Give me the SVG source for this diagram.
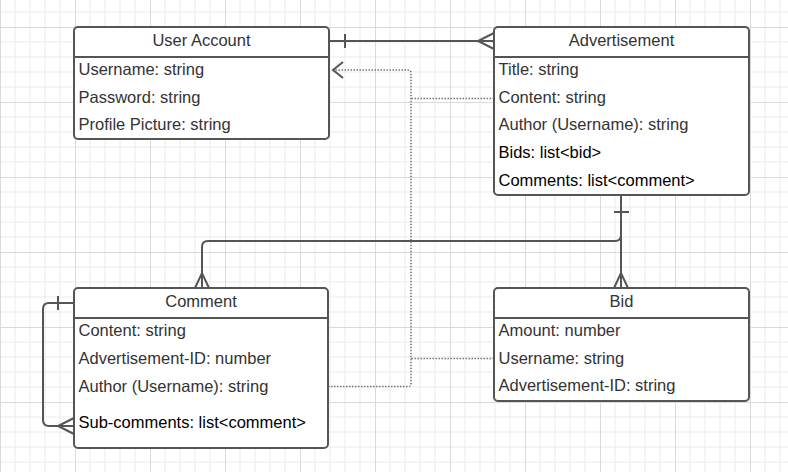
<svg xmlns="http://www.w3.org/2000/svg" width="788" height="472" viewBox="0 0 788 472">
<defs>
<pattern id="grid" x="0" y="27" width="75" height="75" patternUnits="userSpaceOnUse">
<path d="M15 0V75M30 0V75M45 0V75M60 0V75M0 15H75M0 30H75M0 45H75M0 60H75" stroke="#ebebeb" stroke-width="1" fill="none"/>
<path d="M0.5 0V75M0 0.5H75" stroke="#dadada" stroke-width="1" fill="none"/>
</pattern>
</defs>
<style>
.box{fill:#fff;stroke:#555;stroke-width:2}
.sep{stroke:#555;stroke-width:2}
.hd{font-family:"Liberation Sans",Arial,sans-serif;font-size:16.5px;fill:#333;text-anchor:middle}
.fd{font-family:"Liberation Sans",Arial,sans-serif;font-size:16.5px;fill:#333}
.fb{fill:#000}
.ln{fill:none;stroke:#555;stroke-width:2}
.dt{fill:none;stroke:#777;stroke-width:1.5;stroke-dasharray:1.5 1.5}
</style>
<rect width="788" height="472" fill="#fff"/>
<rect width="788" height="472" fill="url(#grid)"/>

<g id="connectors">
<!-- User Account - Advertisement -->
<path class="ln" d="M329 41H494"/>
<path class="ln" d="M345 34V48"/>
<path class="ln" d="M494 33L478 41L494 49"/>
<!-- Advertisement - Bid -->
<path class="ln" d="M621 195V288"/>
<path class="ln" d="M614 212H629"/>
<path class="ln" d="M614 288L621 273L628 288"/>
<!-- Advertisement - Comment -->
<path class="ln" d="M621 235Q621 241 615 241H208Q202 241 202 247V288"/>
<path class="ln" d="M195 288L202 273L209 288"/>
<!-- Comment self loop -->
<path class="ln" d="M74 303H49Q43 303 43 309V420Q43 426 49 426H74"/>
<path class="ln" d="M58 296V310"/>
<path class="ln" d="M74 418L58 426L74 434"/>
<!-- dotted references to User Account -->
<path class="dt" d="M494 98.5H411M328 386.5H408Q411 386.5 411 383.5V73Q411 70 408 70H334M494 358.5H411"/>
<path class="ln" d="M343 62L333 70L343 78" stroke-width="2.5"/>
</g>

<g id="user-account">
<rect class="box" x="74" y="27" width="255" height="112" rx="4"/>
<path class="sep" d="M74 57H329"/>
<text class="hd" x="201.5" y="46">User Account</text>
<text class="fd" x="78.5" y="75">Username: string</text>
<text class="fd" x="78.5" y="102.5">Password: string</text>
<text class="fd" x="78.5" y="130">Profile Picture: string</text>
</g>

<g id="advertisement">
<rect class="box" x="494" y="27" width="255" height="168" rx="4"/>
<path class="sep" d="M494 57H749"/>
<text class="hd" x="621.5" y="46">Advertisement</text>
<text class="fd" x="498.5" y="75">Title: string</text>
<text class="fd" x="498.5" y="102.5">Content: string</text>
<text class="fd" x="498.5" y="130">Author (Username): string</text>
<text class="fd fb" x="498.5" y="157.5">Bids: list&lt;bid&gt;</text>
<text class="fd fb" x="498.5" y="185.5">Comments: list&lt;comment&gt;</text>
</g>

<g id="comment">
<rect class="box" x="74" y="288" width="254" height="160" rx="4"/>
<path class="sep" d="M74 318H328"/>
<text class="hd" x="201" y="307">Comment</text>
<text class="fd" x="78.5" y="335.5">Content: string</text>
<text class="fd" x="78.5" y="363.5">Advertisement-ID: number</text>
<text class="fd" x="78.5" y="391.5">Author (Username): string</text>
<text class="fd fb" x="78.5" y="427.5">Sub-comments: list&lt;comment&gt;</text>
</g>

<g id="bid">
<rect class="box" x="494" y="288" width="255" height="113" rx="4"/>
<path class="sep" d="M494 318H749"/>
<text class="hd" x="621.5" y="307">Bid</text>
<text class="fd" x="498.5" y="335.5">Amount: number</text>
<text class="fd" x="498.5" y="363.5">Username: string</text>
<text class="fd" x="498.5" y="391">Advertisement-ID: string</text>
</g>
</svg>
